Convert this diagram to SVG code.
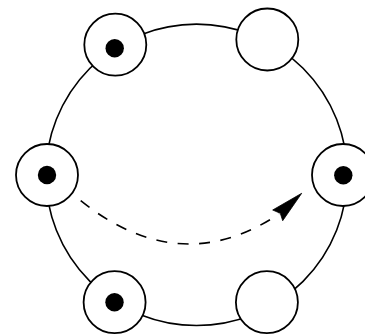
<svg xmlns="http://www.w3.org/2000/svg" width="365" height="335" viewBox="0 0 365 335">
<style>
.ring{fill:none;stroke:#000;stroke-width:1.6}
.site{fill:#fff;stroke:#000;stroke-width:1.8}
.dot{fill:#000}
.conn{fill:none;stroke:#000;stroke-width:1.6;stroke-dasharray:11 10.5}
</style>
<rect width="365" height="335" fill="#fff"/>
<circle class="ring" cx="196.5" cy="174.8" r="150.7"/>
<g id="n1"><circle class="site" cx="115.3" cy="44.7" r="31"/><circle class="dot" cx="114.7" cy="48.2" r="9.2"/></g>
<g id="n2"><circle class="site" cx="267.3" cy="39.5" r="31"/></g>
<g id="n3"><circle class="site" cx="47" cy="175" r="31"/><circle class="dot" cx="47" cy="175" r="9.2"/></g>
<g id="n4"><circle class="site" cx="343" cy="175" r="31"/><circle class="dot" cx="343.3" cy="175.3" r="9.2"/></g>
<g id="n5"><circle class="site" cx="114.6" cy="302.2" r="31"/><circle class="dot" cx="114.5" cy="302.2" r="9.2"/></g>
<g id="n6"><circle class="site" cx="266.9" cy="302.2" r="31"/></g>
<g id="connectors">
<path class="conn" d="M80.7,200.7 Q180,280 279,214"/>
<path d="M301.7,193.3 L272.7,210 L280.3,213.3 L282.7,220.7 Z" fill="#000" stroke="#000" stroke-width="0.8" stroke-linejoin="miter"/>
</g>
</svg>
